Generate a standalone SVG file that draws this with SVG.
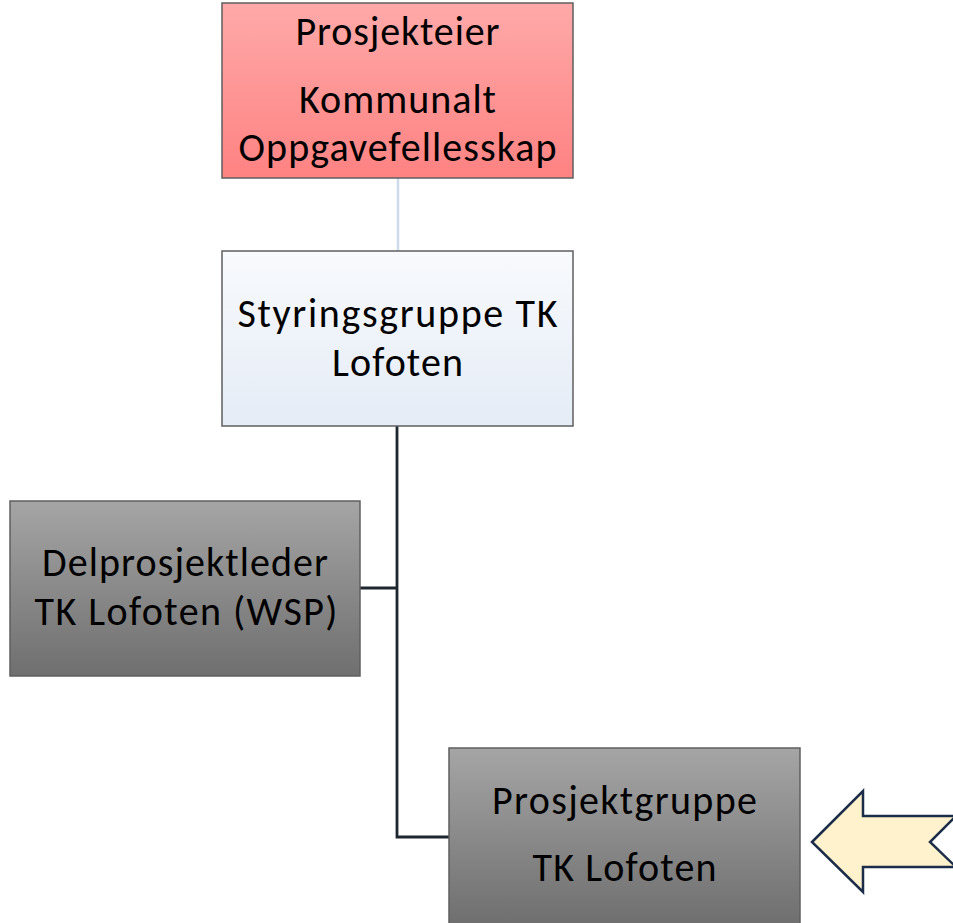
<svg xmlns="http://www.w3.org/2000/svg" width="953" height="923" viewBox="0 0 953 923">
<defs>
<linearGradient id="gRed" x1="0" y1="0" x2="0" y2="1"><stop offset="0" stop-color="#ffa9a9"/><stop offset="1" stop-color="#fe8282"/></linearGradient>
<linearGradient id="gBlue" x1="0" y1="0" x2="0" y2="1"><stop offset="0" stop-color="#f8fafd"/><stop offset="1" stop-color="#e5ecf6"/></linearGradient>
<linearGradient id="gGray" x1="0" y1="0" x2="0" y2="1"><stop offset="0" stop-color="#a5a5a5"/><stop offset="1" stop-color="#6f6f6f"/></linearGradient>
<style>
.box{stroke:#5f5f5f;stroke-width:1.5}
.t{font-family:Carlito,Lato,"Open Sans",sans-serif;font-size:40px;fill:#000;text-anchor:middle}
.conn{fill:none;stroke:#1f272e;stroke-width:2.8}
</style>
</defs>
<g id="connectors">
<line x1="398" y1="178" x2="398" y2="251" stroke="#cddcec" stroke-width="2.5"/>
<path class="conn" d="M397 426 V837 H449"/>
<path class="conn" d="M360 588 H397"/>
</g>
<g id="prosjekteier">
<rect class="box" x="222" y="3" width="351" height="175" fill="url(#gRed)"/>
<text class="t" x="397.5" y="45" textLength="204" lengthAdjust="spacing">Prosjekteier</text>
<text class="t" x="397.5" y="113" textLength="197" lengthAdjust="spacing">Kommunalt</text>
<text class="t" x="397.5" y="161" textLength="318" lengthAdjust="spacing">Oppgavefellesskap</text>
</g>
<g id="styringsgruppe">
<rect class="box" x="222" y="251" width="351" height="175" fill="url(#gBlue)"/>
<text class="t" x="397.5" y="327" textLength="320" lengthAdjust="spacing">Styringsgruppe TK</text>
<text class="t" x="397.5" y="376" textLength="131" lengthAdjust="spacing">Lofoten</text>
</g>
<g id="delprosjektleder">
<rect class="box" x="10" y="501" width="350" height="175" fill="url(#gGray)"/>
<text class="t" x="185" y="576" textLength="286" lengthAdjust="spacing">Delprosjektleder</text>
<text class="t" x="186" y="625" textLength="303" lengthAdjust="spacing">TK Lofoten (WSP)</text>
</g>
<g id="prosjektgruppe">
<rect class="box" x="449" y="748" width="351" height="176" fill="url(#gGray)"/>
<text class="t" x="624.5" y="814" textLength="265" lengthAdjust="spacing">Prosjektgruppe</text>
<text class="t" x="624.5" y="881" textLength="184" lengthAdjust="spacing">TK Lofoten</text>
</g>
<g id="arrow">
<polygon points="812,842 863,791 863,816 956,816 930,842 956,867 863,867 863,892" fill="#fff2cc" stroke="#1c2d4a" stroke-width="2.5" stroke-linejoin="miter"/>
</g>
</svg>
